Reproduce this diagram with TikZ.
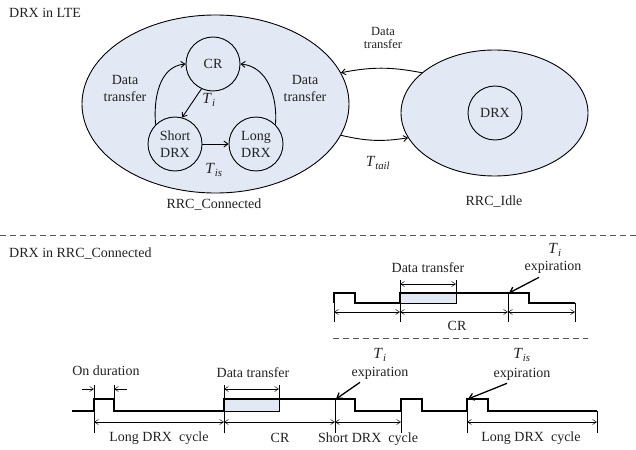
\documentclass[tikz,border=0pt]{standalone}
\usepackage{fontspec}
\setmainfont{Liberation Serif}
\usetikzlibrary{arrows.meta,calc,shapes.geometric}
\definecolor{DrxFill}{HTML}{E2E9F5}
\definecolor{DrxInk}{HTML}{222222}
\definecolor{DrxDash}{HTML}{555555}
\newcommand{\Tlab}[1]{\textit{T}\textsubscript{\textit{#1}}}

\begin{document}
\begin{tikzpicture}[x=1pt,y=-1pt,
    every node/.style={text=DrxInk,font=\fontsize{14}{17}\selectfont,inner sep=1pt},
    rrc/.style={ellipse,draw,fill=DrxFill,line width=0.9pt,inner sep=0pt},
    drxstate/.style={circle,draw,fill=DrxFill,line width=0.9pt,minimum size=54pt,
      align=center,inner sep=0pt},
    flow/.style={-{Straight Barb[length=4pt,width=6pt]},line width=0.9pt},
    tlab/.style={font=\fontsize{15.5}{17}\selectfont,inner sep=0pt},
    wave/.style={line width=1.8pt,line join=miter},
    dimline/.style={{Straight Barb[length=4pt,width=5pt]}-{Straight Barb[length=4pt,width=5pt]},
      line width=0.5pt},
    halfdim/.style={-{Straight Barb[length=4pt,width=5pt]},line width=0.5pt},
    dimtick/.style={line width=0.5pt},
    busy/.style={fill=DrxFill,draw,line width=0.6pt},
    expiry/.style={-{Straight Barb[length=5pt,width=7pt]},line width=1.3pt},
    divider/.style={DrxDash,line width=0.8pt,dash pattern=on 6pt off 4pt}]
  \useasboundingbox (0,0) rectangle (636,449);

  % state diagram
  \node[anchor=west] (lteTitle) at (8,13) {DRX in LTE};

  \node[rrc,minimum width=267pt,minimum height=178pt] (conn) at (215.5,104) {};
  \node[rrc,minimum width=187pt,minimum height=126pt] (idle) at (494.5,113) {};

  \node[drxstate] (cr) at (213,64) {CR};
  \node[drxstate] (short) at (175,144) {Short\\DRX};
  \node[drxstate] (long) at (256,144) {Long\\DRX};
  \node[drxstate] (idledrx) at (495,113) {DRX};

  \draw[flow] (cr.245) -- (short.75);
  \draw[flow] (short) -- (long);
  \draw[flow] (short.135) to[out=95,in=185] (cr.180);
  \draw[flow] (long.45) to[out=85,in=-5] (cr.0);
  \node[align=center] (dataLeft) at (125,88) {Data\\transfer};
  \node[align=center] (dataRight) at (305,88) {Data\\transfer};
  \node[tlab] (tiState) at (209,100) {\Tlab{i}};
  \node[tlab] (tisState) at (214,170) {\Tlab{is}};

  \draw[flow] (idle.151) to[bend right=11] (conn.14);
  \draw[flow] (conn.346) to[bend right=11] (idle.196);
  \node[align=center,font=\fontsize{12.5}{12.5}\selectfont] (dataTop) at (383,38) {Data\\transfer};
  \node[tlab] (tailState) at (378,163) {\Tlab{tail}};

  \node (connLabel) at (214,205) {RRC\_Connected};
  \node (idleLabel) at (494,202) {RRC\_Idle};

  \draw[divider] (0,235) -- (636,235);

  % timing in RRC_Connected
  \node[anchor=west] (connTitle) at (8,254) {DRX in RRC\_Connected};

  % upper trace
  \draw[busy] (400,293) rectangle (456,303);
  \draw[wave] (334,303) -- (334,293) -- (355,293) -- (355,303) -- (400,303) -- (400,293)
    -- (529,293) -- (529,303) -- (575,303);
  \draw[dimtick] (334,293) -- (334,322);
  \draw[dimtick] (400,280) -- (400,322);
  \draw[dimtick] (456,280) -- (456,293);
  \draw[dimtick] (508,293) -- (508,322);
  \draw[dimtick] (575,303) -- (575,322);
  \draw[dimline] (400,284) -- (456,284);
  \draw[dimline] (334,312) -- (400,312);
  \draw[dimline] (400,312) -- (508,312);
  \draw[dimline] (508,312) -- (575,312);
  \node (dataUp) at (428,268) {Data transfer};
  \node (crUp) at (457,326) {CR};
  \node[tlab] (tiUp) at (555,250) {\Tlab{i}};
  \node (tiExpUp) at (553,267) {expiration};
  \coordinate (tiHitUp) at (509,293);
  \draw[expiry] ($(tiExpUp.south)+(-14,3)$) -- (tiHitUp);

  \draw[divider] (333,338) -- (588,338);

  % lower trace
  \draw[busy] (224,399) rectangle (279,411);
  \draw[wave] (72,411) -- (94,411) -- (94,399) -- (114,399) -- (114,411) -- (224,411)
    -- (224,399) -- (355,399) -- (355,411) -- (401,411) -- (401,399) -- (422,399)
    -- (422,411) -- (467,411) -- (467,399) -- (488,399) -- (488,411) -- (597,411);
  \draw[dimtick] (94,385) -- (94,433);
  \draw[dimtick] (114,385) -- (114,399);
  \draw[dimtick] (224,385) -- (224,433);
  \draw[dimtick] (279,385) -- (279,399);
  \draw[dimtick] (335,399) -- (335,433);
  \draw[dimtick] (401,411) -- (401,433);
  \draw[dimtick] (467,411) -- (467,433);
  \draw[dimtick] (597,411) -- (597,433);
  \draw[halfdim] (82,389) -- (94,389);
  \draw[halfdim] (127,389) -- (114,389);
  \draw[dimline] (224,389) -- (279,389);
  \draw[dimline] (94,422) -- (224,422);
  \draw[dimline] (224,422) -- (335,422);
  \draw[dimline] (335,422) -- (401,422);
  \draw[dimline] (467,422) -- (597,422);
  \node (onDur) at (106,371) {On duration};
  \node (dataLow) at (253,373) {Data transfer};
  \node (longCycA) at (159,438) {Long DRX\ \ cycle};
  \node (crLow) at (280,438) {CR};
  \node (shortCyc) at (368,439) {Short DRX\ \ cycle};
  \node (longCycB) at (531,438) {Long DRX\ \ cycle};
  \node[tlab] (tiLow) at (380,355) {\Tlab{i}};
  \node (tiExpLow) at (380,373) {expiration};
  \node[tlab] (tisLow) at (522,355) {\Tlab{is}};
  \node (tisExpLow) at (522,374) {expiration};
  \coordinate (tiHitLow) at (336,399);
  \coordinate (tisHitLow) at (468,399);
  \draw[expiry] ($(tiExpLow.south)+(-20,2)$) -- (tiHitLow);
  \draw[expiry] ($(tisExpLow.south)+(-15,2)$) -- (tisHitLow);
\end{tikzpicture}
\end{document}
